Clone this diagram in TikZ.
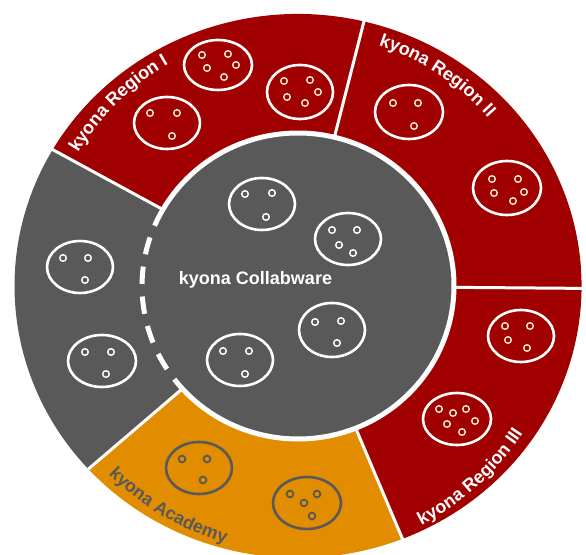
\documentclass[tikz,border=0pt]{standalone}
\usepackage{fontspec}
\setmainfont{Liberation Sans}
\usetikzlibrary{calc}
\usetikzlibrary{decorations.text}
\definecolor{kyonared}{RGB}{160,0,0}
\definecolor{kyonagray}{RGB}{89,89,89}
\definecolor{kyonaorange}{RGB}{226,141,0}
\definecolor{cream}{RGB}{255,232,205}
\newcommand{\kyonafont}{\fontsize{18}{18}\selectfont\bfseries}
\tikzset{
   divider/.style={draw=white, line width=3pt},
   rim/.style={draw=white, line width=5pt},
   cell/.style={draw=white, line width=2.6pt},
   dot/.style={draw=cream, line width=1.4pt},
   graycell/.style={draw=kyonagray, line width=2.6pt},
   graydot/.style={draw=kyonagray, line width=1.8pt},
   regionlabel/.style={decorate,
      decoration={text along path, text align=center, text color=white,
         text={|\kyonafont|#1}}},
    }

\begin{document}
\begin{tikzpicture}[x=1pt,y=1pt]
            \clip (0,0) rectangle (586,554);
            \coordinate (C) at (298,268);
            % outer ring
            \fill[kyonagray] (C) -- ($(C)+(150:283.5 and 272)$) arc[start angle=150, end angle=222.2, x radius=283.5, y radius=272] -- cycle;
            \fill[kyonaorange] (C) -- ($(C)+(222.2:283.5 and 272)$) arc[start angle=222.2, end angle=291.7, x radius=283.5, y radius=272] -- cycle;
            \fill[kyonared] (C) -- ($(C)+(-68.3:283.5 and 272)$) arc[start angle=-68.3, end angle=150, x radius=283.5, y radius=272] -- cycle;
            \foreach \a in {150,76.5,-0.5,-68.3,222.2}
               \draw[divider] ($(C)+(\a:156 and 153)$) -- ($(C)+(\a:292 and 281)$);
            % collabware core
            \fill[kyonagray] (C) ellipse (156 and 153);
            \draw[rim] ($(C)+(218.7:156 and 153)$) arc[start angle=218.7, end angle=516.8, x radius=156, y radius=153];
            \draw[rim, dash pattern=on 17.5pt off 12.5pt, dash phase=17.5pt] ($(C)+(156.8:156 and 153)$) arc[start angle=156.8, end angle=218.7, x radius=156, y radius=153];
            % region I
            \draw[cell] (167,431) ellipse (33 and 26);
            \foreach \p in {(150,441),(177,441),(172,418)} \draw[dot] \p circle (3.3);
            \draw[cell] (218,489) ellipse (34 and 25);
            \foreach \p in {(202,499),(228,500),(207,486),(236,489),(224,477)} \draw[dot] \p circle (3.3);
            \draw[cell] (300,462) ellipse (33 and 27);
            \foreach \p in {(284,473),(287,457),(310,474),(318,462),(305,451)} \draw[dot] \p circle (3.3);
            % region II
            \draw[cell] (409,442) ellipse (34 and 27);
            \foreach \p in {(393,451),(418,451),(414,428)} \draw[dot] \p circle (3.3);
            \draw[cell] (507,366) ellipse (34 and 27);
            \foreach \p in {(492,375),(518,375),(494,361),(524,362),(513,353)} \draw[dot] \p circle (3.3);
            % region III
            \draw[cell] (521,218) ellipse (33 and 26);
            \foreach \p in {(505,228),(530,228),(508,214),(527,206)} \draw[dot] \p circle (3.3);
            \draw[cell] (457,135) ellipse (34 and 26);
            \foreach \p in {(439,145),(453,141),(466,145),(447,130),(462,122),(475,133)} \draw[dot] \p circle (3.3);
            % core cells
            \draw[cell] (262,350) ellipse (33 and 26);
            \foreach \p in {(245,360),(272,361),(266,337)} \draw[dot, draw=white] \p circle (3.3);
            \draw[cell] (348,315) ellipse (33 and 26);
            \foreach \p in {(332,324),(357,324),(339,309),(353,301)} \draw[dot, draw=white] \p circle (3.3);
            \draw[cell] (332,224) ellipse (33 and 27);
            \foreach \p in {(315,232),(341,233),(337,211)} \draw[dot, draw=white] \p circle (3.3);
            \draw[cell] (240,194) ellipse (33 and 26);
            \foreach \p in {(223,203),(249,203),(245,180)} \draw[dot, draw=white] \p circle (3.3);
            % left sector
            \draw[cell] (80,287) ellipse (33 and 26);
            \foreach \p in {(63,296),(88,296),(85,274)} \draw[dot, draw=white] \p circle (3.3);
            \draw[cell] (102,193) ellipse (34 and 26);
            \foreach \p in {(85,202),(111,202),(106,180)} \draw[dot, draw=white] \p circle (3.3);
            % academy
            \draw[graycell] (199,86) ellipse (33 and 26);
            \foreach \p in {(182,95),(207,95),(203,74)} \draw[graydot] \p circle (3.4);
            \draw[graycell] (307,51) ellipse (34 and 26);
            \foreach \p in {(290,60),(317,60),(304,51),(312,38)} \draw[graydot] \p circle (3.4);
            % labels
            \node[font=\kyonafont, text=white, anchor=base] (collab) at (255.5,269) {kyona Collabware};
            \path[regionlabel={kyona Region I}] ($(C)+(160:257)$) arc[start angle=160, end angle=109, radius=257];
            \path[regionlabel={kyona Region II}] ($(C)+(82:254)$) arc[start angle=82, end angle=31, radius=254];
            \path[regionlabel={kyona Region III}] ($(C)+(-75:269)$) arc[start angle=-75, end angle=-21, radius=269];
            \path[regionlabel={kyona Academy}, decoration={text color=kyonagray}] ($(C)+(212:267)$) arc[start angle=212, end angle=267, radius=267];
        \end{tikzpicture}
\end{document}
